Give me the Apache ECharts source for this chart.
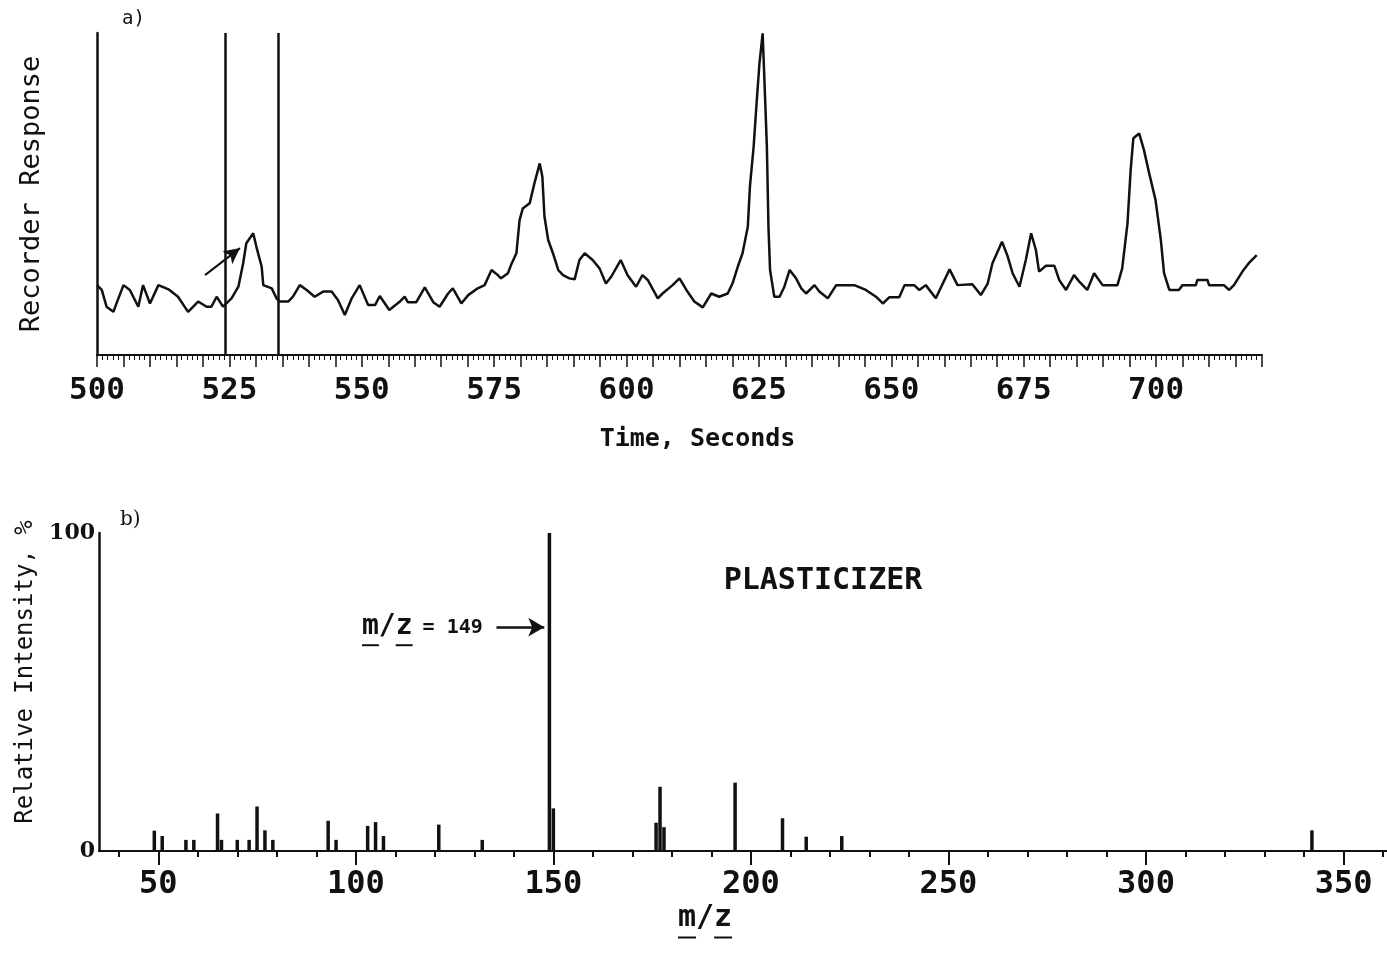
<!DOCTYPE html>
<html>
<head>
<meta charset="utf-8">
<script src="https://cdn.jsdelivr.net/npm/echarts@6/dist/echarts.min.js"></script>
<style>
  html, body { margin: 0; padding: 0; background: #fff; }
  #chart { width: 1387px; height: 954px; }
</style>
</head>
<body>
<div id="chart"></div>
<script>
// a) chromatogram trace
const traceTime = [
  500, 500.9, 501.8, 503.1, 503.7, 505, 506.2, 507.8, 508.7, 510, 511.6, 513.5, 515.3, 517.2, 519.1,
  520.7, 521.6, 522.6, 523.8, 525.4, 526.7, 527.6, 528.2, 529.5, 530.1, 531.1, 531.4, 533, 533.9,
  534.5, 536.1, 537, 538.3, 539.6, 541.1, 542.7, 544.3, 545.5, 546.8, 548.1, 549.6, 551.2, 552.5,
  553.4, 555.2, 557.2, 558.1, 558.7, 560.3, 561.9, 563.5, 564.7, 566.3, 567.2, 568.8, 570.1, 571.9,
  573.2, 574.5, 575.7, 576.3, 577.6, 578.2, 579.2, 579.8, 580.4, 581.7, 582.6, 583.6, 584.1, 584.5,
  585.2, 586.1, 587.1, 588, 589.2, 590.2, 591.1, 592.1, 593.6, 594.9, 596.1, 597.1, 598.9, 600.2,
  601.8, 603, 604, 605.9, 606.8, 608.7, 610, 611.3, 612.8, 614.4, 616, 617.5, 619.1, 620, 621,
  621.9, 622.9, 623.3, 624, 624.6, 625.1, 625.7, 626, 626.5, 626.8, 627.1, 627.9, 628.9, 629.8,
  630.8, 632, 633, 633.9, 635.5, 636.4, 638, 639.6, 643, 645.2, 647.1, 648.4, 649.6, 651.5, 652.5,
  654.3, 655.3, 656.5, 658.4, 661, 662.5, 665.3, 666.9, 668.2, 669.1, 670.9, 672, 672.9, 674.2,
  675.4, 676.4, 677.3, 677.9, 679.2, 680.8, 681.7, 683, 684.5, 685.5, 687, 688.3, 689.9, 692.7,
  693.6, 694.6, 695.2, 695.7, 696.8, 697.7, 698.7, 699.9, 700.9, 701.5, 702.5, 704.3, 705, 707.5,
  707.8, 709.7, 710, 712.8, 713.8, 714.7, 716.3, 717.5, 719
];
const traceResponse = [
  21.7, 20.2, 15, 13.4, 16.1, 21.7, 20.2, 15, 21.7, 16, 21.7, 20.4, 18.1, 13.4, 16.6,
  15, 15, 18.1, 15, 17.6, 21.2, 28.5, 34.7, 37.8, 33.6, 27.4, 21.7, 20.7, 17.6,
  16.6, 16.6, 18.1, 21.7, 20.2, 18.1, 19.7, 19.7, 17.1, 12.4, 17.6, 21.7, 15.5, 15.5,
  18.3, 14, 16.6, 18.1, 16.4, 16.4, 21, 16.4, 15, 19.1, 20.7, 16, 18.6, 20.7,
  21.7, 26.4, 24.8, 23.8, 25.4, 28, 31.6, 41.9, 45.5, 47.1, 53.3, 59.5, 55.4, 43,
  35.7, 31.6, 26.4, 24.8, 23.8, 23.5, 29.5, 31.6, 29.5, 26.9, 22.2, 24.3, 29.5, 24.8,
  21.2, 24.8, 23.3, 17.6, 19.1, 21.7, 23.8, 20.2, 16.6, 14.8, 19.1, 18.1, 19.1, 22.2, 27.4,
  31.6, 39.8, 52.3, 64.7, 79.2, 90.6, 99.9, 87, 64.7, 39.8, 26.4, 18.1, 18.1, 21.2,
  26.4, 23.8, 20.7, 19.1, 21.7, 19.7, 17.6, 21.7, 21.7, 20.2, 18.1, 16, 17.9, 17.9, 21.7,
  21.7, 20.2, 21.7, 17.6, 26.6, 21.7, 22, 18.6, 22.2, 28.5, 35.2, 30.5, 25.4, 21.2,
  29.5, 37.8, 32.6, 25.9, 27.7, 27.7, 23.3, 20.2, 24.8, 22.8, 20.2, 25.4, 21.7, 21.7,
  26.9, 40.9, 57.5, 67.3, 68.8, 63.7, 56.4, 48.1, 35.7, 25.4, 20.2, 20.2, 21.7, 21.7,
  23.3, 23.3, 21.7, 21.7, 20.2, 21.7, 25.9, 28.5, 31
];
const gateTimes = [524.2, 534.2];
const timeLabels = [500, 525, 550, 575, 600, 625, 650, 675, 700];
const peakArrow = [[520.4, 24.8], [527, 33.2]];

// b) mass spectrum
const massValues = [49, 51, 57, 59, 65, 66, 70, 73, 75, 77, 79, 93, 95, 103, 105, 107, 121, 132,
  149, 150, 176, 177, 178, 196, 208, 214, 223, 342];
const massIntensity = [6.4, 4.7, 3.5, 3.5, 11.8, 3.5, 3.5, 3.5, 14, 6.5, 3.5, 9.5, 3.5, 7.9, 9.1, 4.7, 8.3, 3.5,
  100, 13.4, 8.9, 20.2, 7.5, 21.5, 10.3, 4.5, 4.7, 6.5];
const massLabels = [50, 100, 150, 200, 250, 300, 350];
const massMinorTicks = [40, 60, 70, 80, 90, 110, 120, 130, 140, 160, 170, 180, 190, 210, 220, 230, 240,
  260, 270, 280, 290, 310, 320, 330, 340, 360];
const baseArrow = [[135.6, 70.4], [147.7, 70.4]];

const ink = "#111";
const mono = "DejaVu Sans Mono";

// "m/z" with the m and z underlined, as in the print
function mzText(x, y, size, extra) {
  const w = size * 0.602;
  const under = y + size * 0.65;
  const children = [
    { type: "text", x, y, style: { text: "m/z", font: "bold " + size + "px " + mono, fill: ink, textVerticalAlign: "middle" } },
    { type: "line", shape: { x1: x, y1: under, x2: x + w, y2: under }, style: { stroke: ink, lineWidth: 2 } },
    { type: "line", shape: { x1: x + 2 * w, y1: under, x2: x + 3 * w, y2: under }, style: { stroke: ink, lineWidth: 2 } },
  ];
  if (extra) {
    children.push({ type: "text", x: x + 3 * w + 10, y: y + 1, style: { text: extra, font: "bold 20px " + mono, fill: ink, textVerticalAlign: "middle" } });
  }
  return children;
}

const chart = echarts.init(document.getElementById("chart"));

chart.setOption({
  animation: false,
  backgroundColor: "#fff",
  grid: [
    { left: 97, top: 33, width: 1165, height: 322 },
    { left: 99, top: 533, width: 1288, height: 318 },
  ],
  xAxis: [
    {
      gridIndex: 0, type: "value", min: 500, max: 720, interval: 5,
      axisLine: { lineStyle: { color: ink, width: 2 } },
      axisTick: { length: 12, lineStyle: { color: ink, width: 1.5 } },
      minorTick: { show: true, splitNumber: 5, length: 5, lineStyle: { color: ink, width: 1 } },
      axisLabel: { customValues: timeLabels, margin: 20, color: ink, fontFamily: mono, fontWeight: "bold", fontSize: 31 },
      splitLine: { show: false },
      name: "Time, Seconds", nameLocation: "middle", nameGap: 72,
      nameTextStyle: { color: ink, fontFamily: mono, fontWeight: "bold", fontSize: 25, padding: [0, 0, 0, 36] },
    },
    {
      gridIndex: 1, type: "value", min: 35, max: 361, position: "bottom",
      axisLine: { lineStyle: { color: ink, width: 2 } },
      axisTick: { customValues: massLabels, length: 14, lineStyle: { color: ink, width: 2 } },
      axisLabel: { customValues: massLabels, margin: 18, color: ink, fontFamily: mono, fontWeight: "bold", fontSize: 32 },
      splitLine: { show: false },
    },
    {
      gridIndex: 1, type: "value", min: 35, max: 361, position: "bottom",
      axisLine: { show: false },
      axisTick: { customValues: massMinorTicks, length: 6, lineStyle: { color: ink, width: 2 } },
      axisLabel: { show: false },
      splitLine: { show: false },
    },
  ],
  yAxis: [
    {
      gridIndex: 0, type: "value", min: 0, max: 100,
      axisLine: { show: true, lineStyle: { color: ink, width: 2.5 } },
      axisTick: { show: false }, axisLabel: { show: false }, splitLine: { show: false },
      name: "Recorder Response", nameLocation: "middle", nameGap: 52,
      nameTextStyle: { color: ink, fontFamily: mono, fontSize: 27 },
    },
    {
      gridIndex: 1, type: "value", min: 0, max: 100, interval: 100,
      axisLine: { show: true, lineStyle: { color: ink, width: 2.5 } },
      axisTick: { show: false }, splitLine: { show: false },
      axisLabel: { margin: 4, color: ink, fontFamily: "DejaVu Serif", fontWeight: "bold", fontSize: 22 },
      name: "Relative Intensity, %", nameLocation: "middle", nameGap: 54,
      nameTextStyle: { color: ink, fontFamily: mono, fontSize: 24, padding: [0, 0, 0, 40] },
    },
  ],
  series: [
    {
      type: "line", xAxisIndex: 0, yAxisIndex: 0,
      data: traceTime.map((t, i) => [t, traceResponse[i]]),
      showSymbol: false,
      lineStyle: { color: ink, width: 2.5 },
      markLine: {
        silent: true, animation: false,
        symbol: "none",
        label: { show: false },
        lineStyle: { color: ink, width: 2.5, type: "solid" },
        data: [
          ...gateTimes.map((t) => ({ xAxis: t })),
          [
            { coord: peakArrow[0], symbol: "none", lineStyle: { width: 2 } },
            { coord: peakArrow[1], symbol: "arrow", symbolSize: [12, 16] },
          ],
        ],
      },
    },
    {
      type: "bar", xAxisIndex: 1, yAxisIndex: 1,
      data: massValues.map((m, i) => [m, massIntensity[i]]),
      barWidth: 3.5,
      itemStyle: { color: ink },
      markLine: {
        silent: true, animation: false,
        label: { show: false },
        lineStyle: { color: ink, width: 2.5, type: "solid" },
        data: [
          [
            { coord: baseArrow[0], symbol: "none" },
            { coord: baseArrow[1], symbol: "arrow", symbolSize: [14, 16] },
          ],
        ],
      },
    },
  ],
  graphic: [
    { type: "text", left: 122, top: 10, style: { text: "a)", font: "19px " + mono, fill: ink } },
    { type: "text", left: 120, top: 510, style: { text: "b)", font: "20px 'DejaVu Serif'", fill: ink } },
    {
      type: "text", x: 823, y: 581,
      style: { text: "PLASTICIZER", font: "bold 30px " + mono, fill: ink, textAlign: "center", textVerticalAlign: "middle" },
    },
    { type: "group", children: mzText(362, 627, 28, "= 149") },
    { type: "group", children: mzText(678, 918, 30) },
  ],
});
</script>
</body>
</html>
